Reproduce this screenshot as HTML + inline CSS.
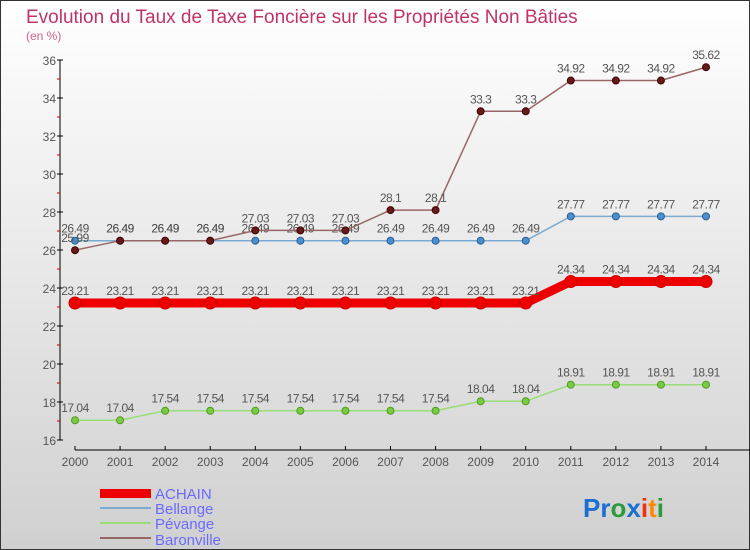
<!DOCTYPE html>
<html><head><meta charset="utf-8"><style>
body{margin:0;width:750px;height:550px;overflow:hidden;font-family:"Liberation Sans",sans-serif}
#wrap{position:absolute;left:0;top:0;width:748px;height:548px;border:1px solid #333;background:linear-gradient(#ffffff,#d0d0d0)}
</style></head><body>
<div id="wrap">
<svg id="chart" width="750" height="550" style="position:absolute;left:-1px;top:-1px">
<text x="26" y="23" font-size="19" fill="#c0336a">Evolution du Taux de Taxe Foncière sur les Propriétés Non Bâties</text>
<text x="26" y="40" font-size="12" fill="#d06090">(en %)</text>
<g id="axes"></g><g id="series"></g>
<g>
<rect x="100" y="489" width="51" height="9" fill="#ee0000"/>
<text x="155" y="499" font-size="15" fill="#6a6aff">ACHAIN</text>
<rect x="100" y="507" width="51" height="2" fill="#7aaad0"/>
<text x="155" y="514" font-size="15" fill="#6a6aff">Bellange</text>
<rect x="100" y="522" width="51" height="2" fill="#99dd77"/>
<text x="155" y="529" font-size="15" fill="#6a6aff">Pévange</text>
<rect x="100" y="537" width="51" height="2" fill="#996666"/>
<text x="155" y="545" font-size="15" fill="#6a6aff">Baronville</text>
</g>
<text x="583" y="517" font-size="26" font-weight="bold"><tspan fill="#1a6fd0">Pr</tspan><tspan fill="#2a9a3a">o</tspan><tspan fill="#1a6fd0">x</tspan><tspan fill="#ee3311">i</tspan><tspan fill="#ff8800">t</tspan><tspan fill="#2a9a3a">i</tspan></text>
</svg></div>
<script>
const years=[2000,2001,2002,2003,2004,2005,2006,2007,2008,2009,2010,2011,2012,2013,2014];
const yTicks=[16,18,20,22,24,26,28,30,32,34,36];
const achain=[23.21,23.21,23.21,23.21,23.21,23.21,23.21,23.21,23.21,23.21,23.21,24.34,24.34,24.34,24.34];
const bellange=[26.49,26.49,26.49,26.49,26.49,26.49,26.49,26.49,26.49,26.49,26.49,27.77,27.77,27.77,27.77];
const pevange=[17.04,17.04,17.54,17.54,17.54,17.54,17.54,17.54,17.54,18.04,18.04,18.91,18.91,18.91,18.91];
const baronville=[25.99,26.49,26.49,26.49,27.03,27.03,27.03,28.1,28.1,33.3,33.3,34.92,34.92,34.92,35.62];
const NS="http://www.w3.org/2000/svg";
const xs=i=>75+i*(706-75)/(years.length-1);
const ys=v=>440-(v-16)*19;
function mk(t,a,p){const e=document.createElementNS(NS,t);for(const k in a)e.setAttribute(k,a[k]);p.appendChild(e);return e;}
const ax=document.getElementById('axes');
let l=mk('line',{x1:60,y1:60,x2:60,y2:440,stroke:'#000'},ax);


l=mk('line',{x1:75,y1:450,x2:750,y2:450,stroke:'#000'},ax);


yTicks.forEach(v=>{mk('line',{x1:57,y1:ys(v),x2:63,y2:ys(v),stroke:'#000'},ax);
 if(v<36){mk('line',{x1:57,y1:ys(v+1),x2:60,y2:ys(v+1),stroke:'#c00'},ax);}
 const t=mk('text',{x:56,y:ys(v)+5,'font-size':12,fill:'#555','text-anchor':'end'},ax);t.textContent=v;
 
 });
years.forEach((y,i)=>{mk('line',{x1:xs(i),y1:446,x2:xs(i),y2:450,stroke:'#000'},ax);
 const t=mk('text',{x:xs(i),y:466,'font-size':12,fill:'#555','text-anchor':'middle'},ax);t.textContent=y;
 
 });
const sg=document.getElementById('series');
function draw(vals,name,col,w,r,dot,dotStroke){
 const g=mk('g',{},sg);
 
 
 mk('polyline',{points:vals.map((v,i)=>xs(i)+','+ys(v)).join(' '),fill:'none',stroke:col,'stroke-width':w},g);
 vals.forEach((v,i)=>{const c=mk('circle',{cx:xs(i),cy:ys(v),r:r,fill:dot,stroke:dotStroke,'stroke-width':1},g);
  
  
  const t=mk('text',{x:xs(i),y:ys(v)-8,'font-size':12,fill:'#555','text-anchor':'middle','letter-spacing':'-0.5'},g);t.textContent=v;
  
  });
}
draw(pevange,'pevange','#99dd77',1.5,3.5,'#77cc44','#559922');
draw(bellange,'bellange','#7aaad0',1.5,3.5,'#4a90d0','#2a6090');
draw(baronville,'baronville','#996666',1.5,3.5,'#661a1a','#440000');
draw(achain,'achain','#ee0000',9,6,'#ee0000','#cc0000');
</script>
</body></html>
